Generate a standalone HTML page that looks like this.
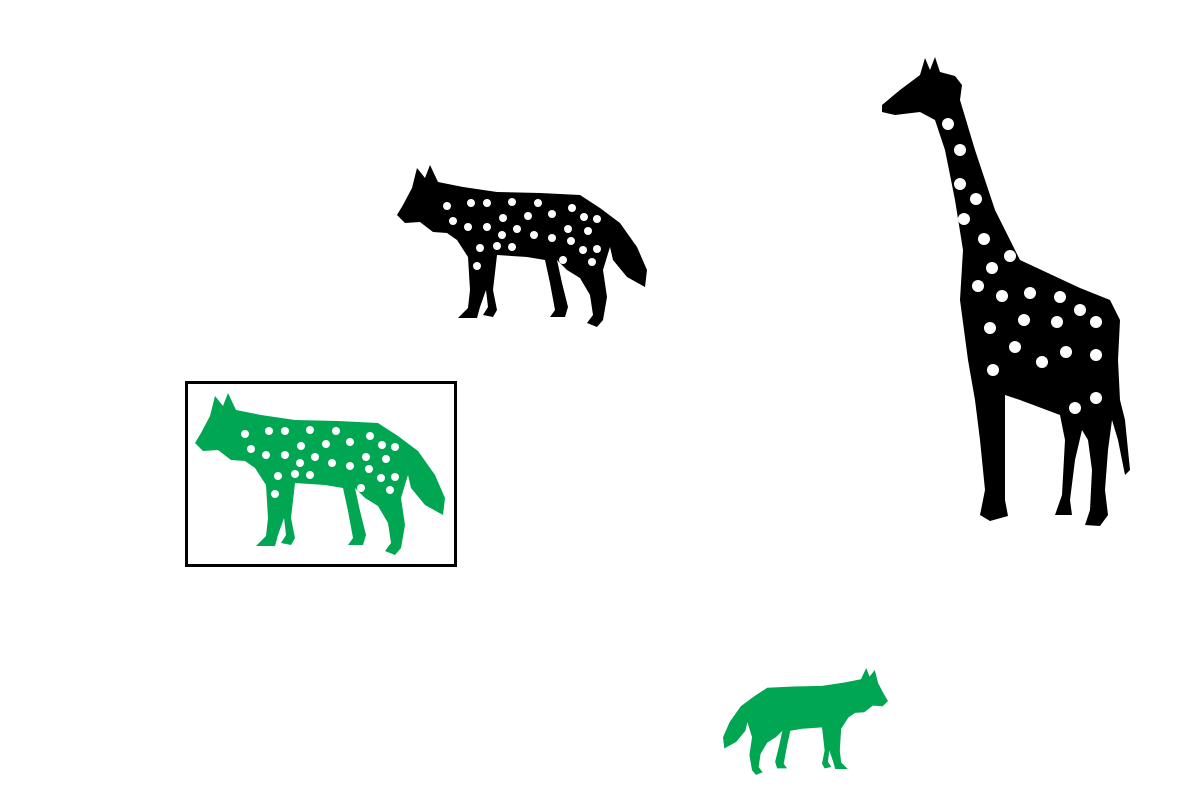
<!DOCTYPE html>
<html><head><meta charset="utf-8"><style>html,body{margin:0;padding:0;background:#fff;width:1200px;height:800px;overflow:hidden}</style></head>
<body>
<svg width="1200" height="800" viewBox="0 0 1200 800">
<defs>
<path id="wolf" d="M0,50 L6,40 L15,23 L20,3 L28,13 L33,0 L41,17 L66,22 L100,27 L143,28 L183,30 L203,43 L223,58 L240,82 L250,105 L248,122 L230,112 L216,95 L213,82 L206,105 L210,132 L206,155 L200,162 L190,158 L196,150 L193,130 L183,113 L170,105 L160,95 L165,118 L171,142 L168,152 L153,152 L158,145 L153,118 L148,95 L130,92 L100,90 L96,125 L100,145 L96,152 L86,150 L91,142 L89,125 L83,142 L80,153 L61,153 L71,143 L73,125 L71,92 L60,75 L50,68 L36,67 L23,57 L8,58 Z"/>
<g id="wolfdots" fill="#fff">
<circle cx="50" cy="41" r="4"/><circle cx="74" cy="38" r="4"/><circle cx="90" cy="38" r="4"/><circle cx="115" cy="37" r="4"/><circle cx="141" cy="38" r="4"/><circle cx="175" cy="43" r="4"/><circle cx="56" cy="56" r="4"/><circle cx="106" cy="53" r="4"/><circle cx="131" cy="51" r="4"/><circle cx="155" cy="49" r="4"/><circle cx="187" cy="52" r="4"/><circle cx="200" cy="54" r="4"/><circle cx="71" cy="62" r="4"/><circle cx="90" cy="62" r="4"/><circle cx="120" cy="64" r="4"/><circle cx="105" cy="70" r="4"/><circle cx="137" cy="70" r="4"/><circle cx="155" cy="73" r="4"/><circle cx="171" cy="64" r="4"/><circle cx="191" cy="66" r="4"/><circle cx="174" cy="76" r="4"/><circle cx="83" cy="83" r="4"/><circle cx="100" cy="81" r="4"/><circle cx="115" cy="82" r="4"/><circle cx="186" cy="85" r="4"/><circle cx="200" cy="84" r="4"/><circle cx="80" cy="101" r="4"/><circle cx="166" cy="95" r="4"/><circle cx="195" cy="97" r="4"/>
</g>
</defs>
<g transform="translate(397,165)">
<use href="#wolf" fill="#000"/><use href="#wolfdots"/>
</g>
<rect x="186.5" y="382.5" width="269" height="183" fill="none" stroke="#000" stroke-width="3"/>
<g transform="translate(195,393)">
<use href="#wolf" fill="#00a651"/><use href="#wolfdots"/>
</g>
<g transform="translate(888,668) scale(-0.66,0.66)">
<use href="#wolf" fill="#00a651"/>
</g>
<g>
<path fill="#000" d="M882,105 L900,90 L920,75 L925,58 L930,70 L935,57 L940,72 L955,76 L962,85 L960,100 L975,150 L995,210 L1020,260 L1080,288 L1110,300 L1120,320 L1118,360 L1120,400 L1125,420 L1130,470 L1125,475 L1118,440 L1112,420 L1108,450 L1105,490 L1108,515 L1100,526 L1085,525 L1090,510 L1092,470 L1088,440 L1082,430 L1075,460 L1070,500 L1072,515 L1055,515 L1062,495 L1065,440 L1060,415 L1020,400 L1005,395 L1005,440 L1005,500 L1008,516 L990,521 L980,515 L985,490 L980,440 L975,400 L968,360 L960,300 L963,250 L955,200 L945,150 L935,120 L920,112 L895,115 L882,112 Z"/>
<g fill="#fff">
<circle cx="948" cy="124" r="6"/><circle cx="960" cy="150" r="6"/><circle cx="960" cy="184" r="6"/><circle cx="976" cy="199" r="6"/><circle cx="964" cy="219" r="6"/><circle cx="984" cy="239" r="6"/><circle cx="992" cy="268" r="6"/><circle cx="1010" cy="256" r="6"/><circle cx="978" cy="286" r="6"/><circle cx="1002" cy="296" r="6"/><circle cx="1030" cy="293" r="6"/><circle cx="1060" cy="297" r="6"/><circle cx="1080" cy="310" r="6"/><circle cx="1096" cy="322" r="6"/><circle cx="1057" cy="322" r="6"/><circle cx="1024" cy="320" r="6"/><circle cx="990" cy="328" r="6"/><circle cx="1015" cy="347" r="6"/><circle cx="1042" cy="362" r="6"/><circle cx="1066" cy="352" r="6"/><circle cx="1096" cy="355" r="6"/><circle cx="993" cy="370" r="6"/><circle cx="1075" cy="408" r="6"/><circle cx="1096" cy="398" r="6"/>
</g>
</g>
</svg>
</body></html>
